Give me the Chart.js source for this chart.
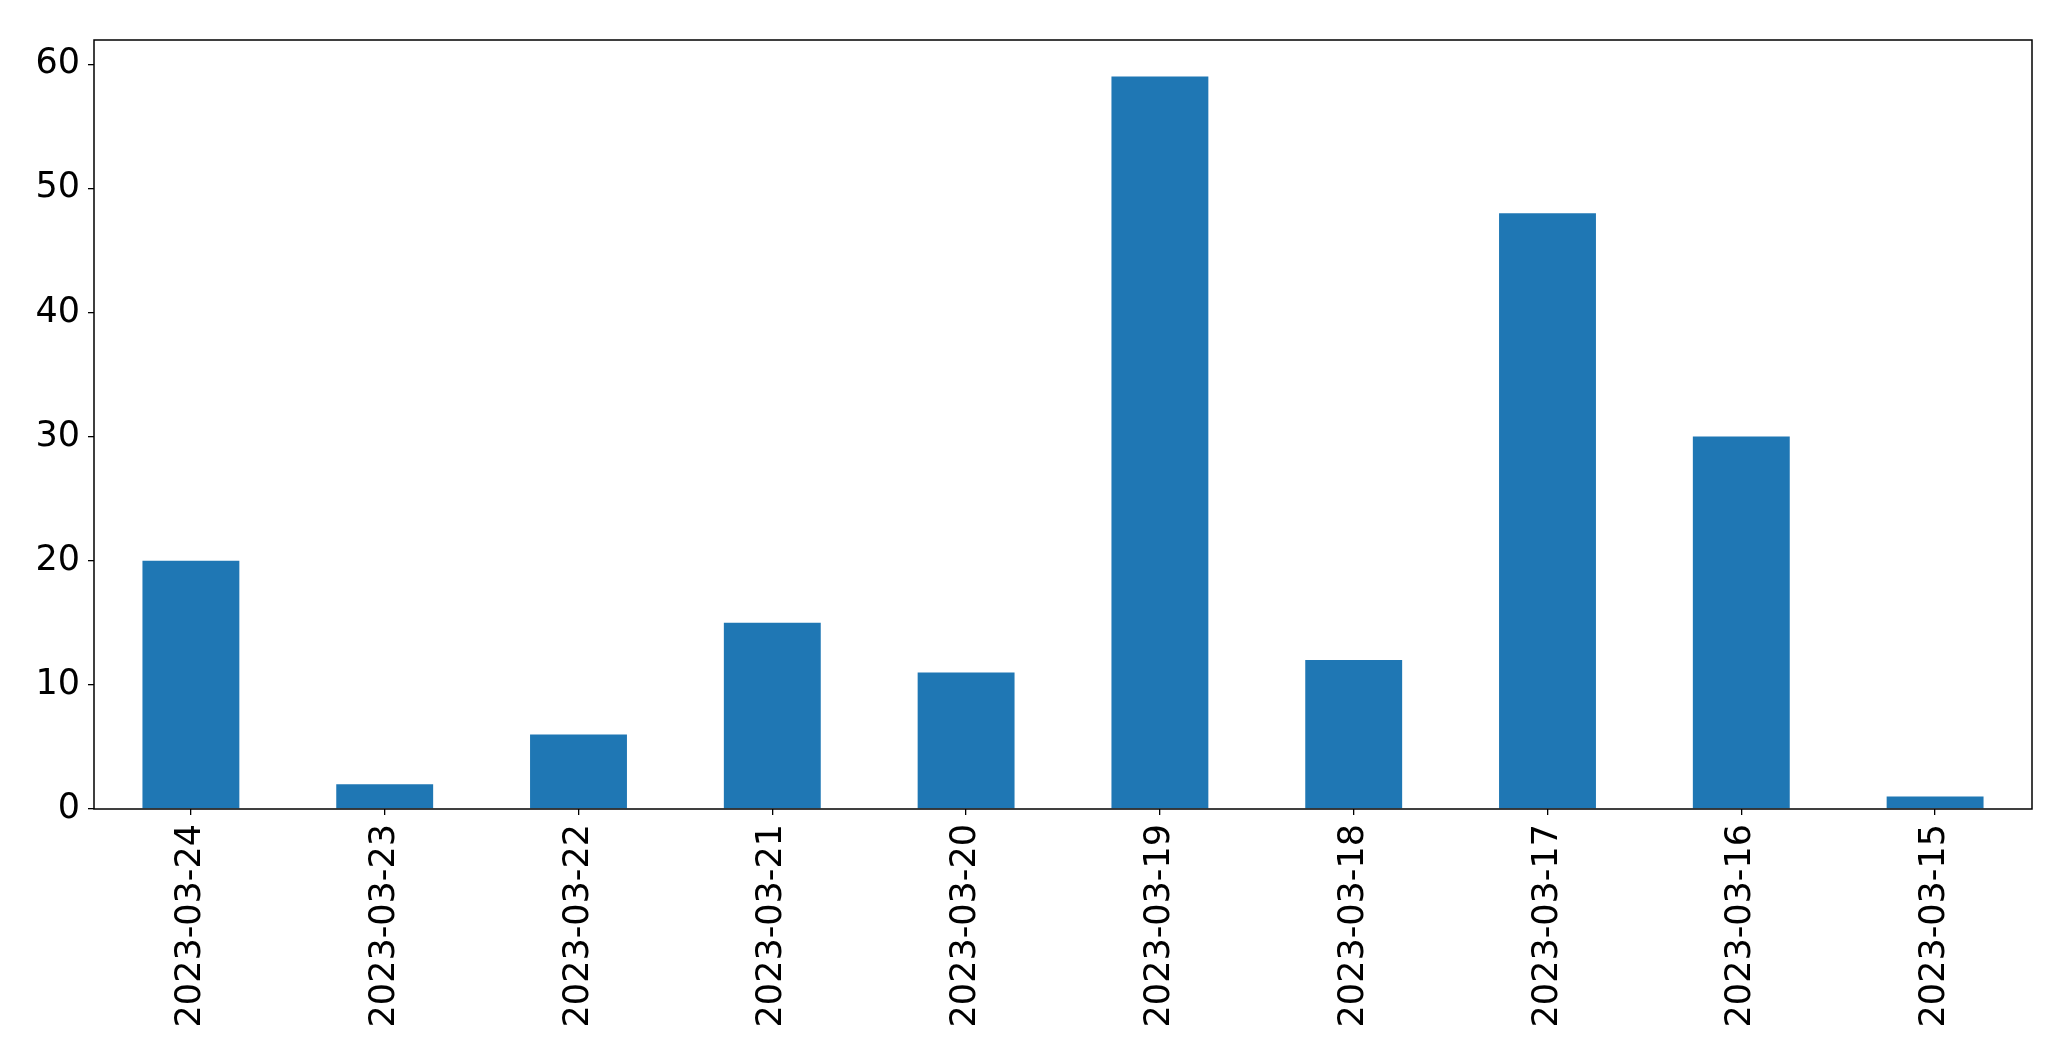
<!DOCTYPE html>
<html>
<head>
<meta charset="utf-8">
<script src="https://cdn.jsdelivr.net/npm/chart.js@4/dist/chart.umd.min.js"></script>
<style>
  body { margin: 0; background: #fff; }
  #wrap { width: 2071px; height: 1061px; }
</style>
</head>
<body>
<div id="wrap"><canvas id="chart" width="2071" height="1061"></canvas></div>
<script>
// datos
const dates = ['2023-03-24', '2023-03-23', '2023-03-22', '2023-03-21', '2023-03-20',
               '2023-03-19', '2023-03-18', '2023-03-17', '2023-03-16', '2023-03-15'];
const counts = [20, 2, 6, 15, 11, 59, 12, 48, 30, 1];
const yTicks = [0, 10, 20, 30, 40, 50, 60];
const yMax = 61.95;

// marco completo alrededor del area del grafico
const framePlugin = {
    id: 'frame',
    afterDraw(chart) {
        const { ctx, chartArea: a } = chart;
        ctx.save();
        ctx.strokeStyle = '#000';
        ctx.lineWidth = 1.5;
        ctx.strokeRect(a.left, a.top, a.right - a.left, a.bottom - a.top);
        ctx.restore();
    }
};

const ctx = document.getElementById('chart').getContext('2d');
const chart = new Chart(ctx, {
    type: 'bar',
    data: {
        labels: dates,
        datasets: [{
            data: counts,
            backgroundColor: '#1f77b4',
            borderWidth: 0,
            categoryPercentage: 1,
            barPercentage: 0.5
        }]
    },
    options: {
        responsive: false,
        animation: false,
        layout: { padding: { top: 40, right: 39, left: 0, bottom: 0 } },
        plugins: { legend: { display: false }, tooltip: { enabled: false } },
        scales: {
            x: {
                offset: true,
                grid: { drawOnChartArea: false, drawTicks: true, tickLength: 6, color: '#000', lineWidth: 1.3, offset: false },
                border: { display: false },
                ticks: {
                    color: '#000',
                    font: { family: 'DejaVu Sans', size: 35 },
                    minRotation: 90,
                    maxRotation: 90,
                    autoSkip: false,
                    padding: 9
                },
                afterFit(scale) { scale.height = 252; }
            },
            y: {
                min: 0,
                max: yMax,
                grid: { drawOnChartArea: false, drawTicks: true, tickLength: 6, color: '#000', lineWidth: 1.3 },
                border: { display: false },
                ticks: {
                    color: '#000',
                    font: { family: 'DejaVu Sans', size: 35 },
                    padding: 8
                },
                afterBuildTicks(scale) { scale.ticks = yTicks.map(v => ({ value: v })); },
                afterFit(scale) { scale.width = 94; }
            }
        }
    },
    plugins: [framePlugin]
});
</script>
</body>
</html>
